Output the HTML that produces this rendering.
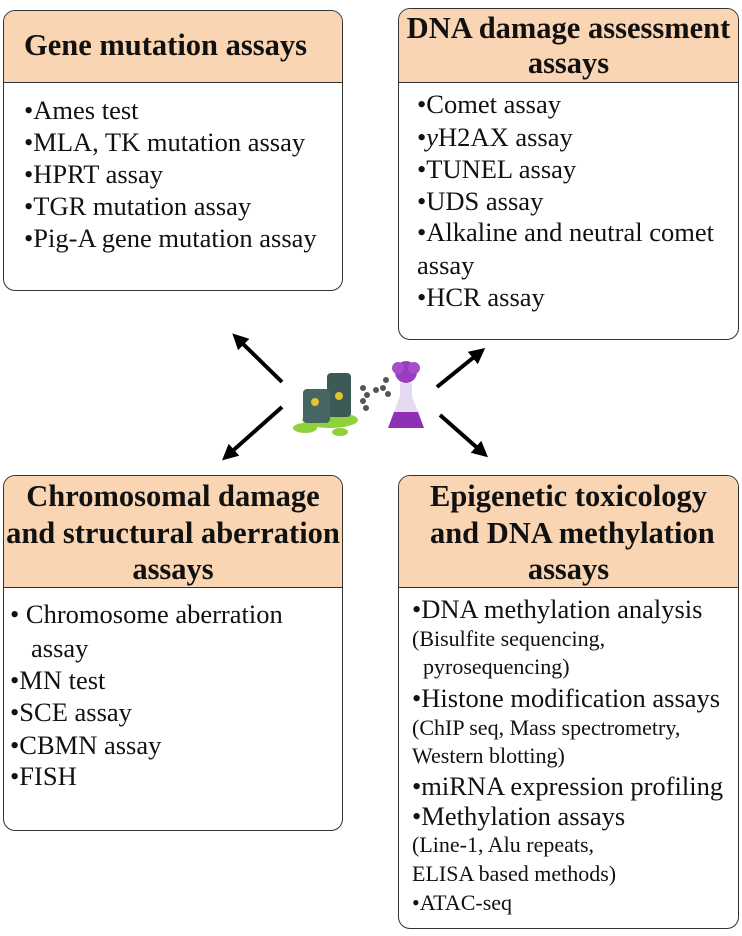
<!DOCTYPE html>
<html><head><meta charset="utf-8"><style>
body{margin:0;width:742px;height:936px;background:#fff;position:relative;overflow:hidden;font-family:"Liberation Serif","Times New Roman",Times,serif;color:#111}
.box{position:absolute;border:1.5px solid #333;border-radius:12px;overflow:hidden;box-sizing:border-box;background:#fff}
.hd{background:#f9d5b3;border-bottom:1.5px solid #333;font-weight:bold;font-size:30.5px;line-height:36.5px;text-align:center;box-sizing:border-box;white-space:nowrap}
.l{position:absolute;font-size:26.5px;white-space:nowrap;line-height:1}
.s{font-size:22px}
</style></head><body>
<div class="box" style="left:3px;top:10px;width:340px;height:281px">
 <div class="hd" style="height:72px;padding-top:16px;text-align:left;padding-left:20px">Gene mutation assays</div>
</div>
<div class="l" style="left:24px;top:97px">•Ames test</div>
<div class="l" style="left:24px;top:129px">•MLA, TK mutation assay</div>
<div class="l" style="left:24px;top:161px">•HPRT assay</div>
<div class="l" style="left:24px;top:193px">•TGR mutation assay</div>
<div class="l" style="left:24px;top:225px">•Pig-A gene mutation assay</div>

<div class="box" style="left:398px;top:8px;width:341px;height:332px">
 <div class="hd" style="height:74px;padding-top:2px;line-height:35px">DNA damage assessment<br>assays</div>
</div>
<div class="l" style="left:417px;top:91px">•Comet assay</div>
<div class="l" style="left:417px;top:124px">•<i>y</i>H2AX assay</div>
<div class="l" style="left:417px;top:156px">•TUNEL assay</div>
<div class="l" style="left:417px;top:188px">•UDS assay</div>
<div class="l" style="left:417px;top:219px">•Alkaline and neutral comet</div>
<div class="l" style="left:417px;top:252px">assay</div>
<div class="l" style="left:417px;top:284px">•HCR assay</div>

<div class="box" style="left:3px;top:475px;width:340px;height:356px">
 <div class="hd" style="height:112px;padding-top:2px">Chromosomal damage<br>and structural aberration<br>assays</div>
</div>
<div class="l" style="left:10px;top:601px">• Chromosome aberration</div>
<div class="l" style="left:31px;top:635px">assay</div>
<div class="l" style="left:10px;top:667px">•MN test</div>
<div class="l" style="left:10px;top:699px">•SCE assay</div>
<div class="l" style="left:10px;top:732px">•CBMN assay</div>
<div class="l" style="left:10px;top:763px">•FISH</div>

<div class="box" style="left:398px;top:475px;width:341px;height:454px">
 <div class="hd" style="height:112px;padding-top:2px">Epigenetic toxicology<br>&nbsp;and DNA methylation<br>assays</div>
</div>
<div class="l" style="left:412px;top:596px">•DNA methylation analysis</div>
<div class="l s" style="left:412px;top:628px">(Bisulfite sequencing,</div>
<div class="l s" style="left:423px;top:656px">pyrosequencing)</div>
<div class="l" style="left:412px;top:685px">•Histone modification assays</div>
<div class="l s" style="left:412px;top:717px">(ChIP seq, Mass spectrometry,</div>
<div class="l s" style="left:412px;top:745px">Western blotting)</div>
<div class="l" style="left:412px;top:773px">•miRNA expression profiling</div>
<div class="l" style="left:412px;top:803px">•Methylation assays</div>
<div class="l s" style="left:412px;top:834px">(Line-1, Alu repeats,</div>
<div class="l s" style="left:412px;top:863px">ELISA based methods)</div>
<div class="l s" style="left:412px;top:892px">•ATAC-seq</div>

<svg width="742" height="936" style="position:absolute;left:0;top:0" xmlns="http://www.w3.org/2000/svg">
<defs><marker id="a" markerWidth="4" markerHeight="4" refX="2" refY="2" orient="auto"><path d="M0,0L4,2L0,4z" fill="#000"/></marker></defs>
<g stroke="#000" stroke-width="4" marker-end="url(#a)">
<line x1="282" y1="382" x2="238" y2="339"/>
<line x1="282" y1="407" x2="228" y2="455"/>
<line x1="437" y1="387" x2="479" y2="353"/>
<line x1="440" y1="415" x2="482" y2="452"/>
</g>
<ellipse cx="330" cy="420" rx="28" ry="8" fill="#8fd13a"/>
<ellipse cx="305" cy="428" rx="12" ry="5" fill="#8fd13a"/>
<ellipse cx="340" cy="432" rx="8" ry="4" fill="#8fd13a"/>
<rect x="327" y="373" width="24" height="44" rx="4" fill="#3e5a56"/>
<rect x="303" y="389" width="27" height="34" rx="4" fill="#476563"/>
<circle cx="315" cy="402" r="4" fill="#e1c52a"/><circle cx="339" cy="396" r="4" fill="#e1c52a"/>
<g fill="#555"><circle cx="363" cy="388" r="3"/><circle cx="367" cy="395" r="3"/><circle cx="376" cy="390" r="3"/><circle cx="383" cy="388" r="3"/><circle cx="386" cy="380" r="3"/><circle cx="388" cy="394" r="3"/><circle cx="363" cy="401" r="3"/><circle cx="366" cy="408" r="3"/></g>
<path d="M400 383 L400 396 L388 428 L424 428 L412 396 L412 383 Z" fill="#e4d9f0"/>
<path d="M394 412 L388 428 L424 428 L418 412 Z" fill="#8e2fb5"/>
<circle cx="406" cy="372" r="11" fill="#9a3cc0"/><circle cx="398" cy="368" r="6" fill="#a64dc8"/><circle cx="414" cy="368" r="6" fill="#a64dc8"/>
</svg>
</body></html>
